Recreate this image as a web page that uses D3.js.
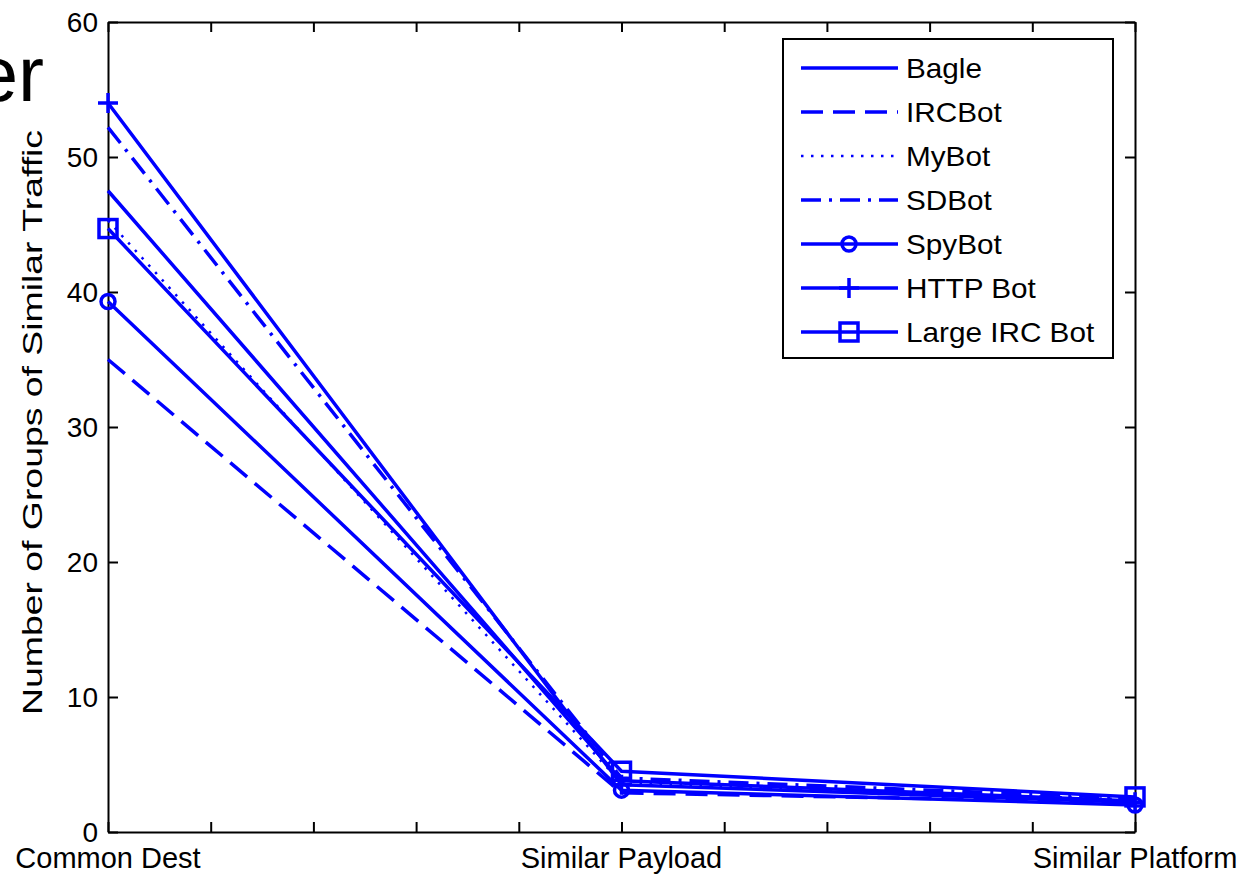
<!DOCTYPE html>
<html>
<head>
<meta charset="utf-8">
<script src="https://cdn.jsdelivr.net/npm/d3@7"></script>
<style>
  html, body { margin: 0; padding: 0; background: #fff; }
  svg { display: block; }
  text { font-family: "Liberation Sans", Arial, sans-serif; fill: #000; }
</style>
</head>
<body>
<svg id="chart" width="1248" height="874"></svg>
<script>
// ---- data ----
const categories = ["Common Dest", "Similar Payload", "Similar Platform"];
const categoryPositions = [1, 2, 3];
const yTicks = [0, 10, 20, 30, 40, 50, 60];
const xMinorTicks = [1, 1.2, 1.4, 1.6, 1.8, 2, 2.2, 2.4, 2.6, 2.8, 3];
const seriesNames = ["Bagle", "IRCBot", "MyBot", "SDBot", "SpyBot", "HTTP Bot", "Large IRC Bot"];
const bagle    = [47.5, 3.8, 2.3];
const ircbot   = [35.0, 2.9, 2.2];
const mybot    = [45.3, 3.6, 2.4];
const sdbot    = [52.2, 4.0, 2.5];
const spybot   = [39.3, 3.1, 2.0];
const httpbot  = [54.0, 3.5, 2.2];
const largeirc = [44.7, 4.5, 2.6];
const seriesValues = [bagle, ircbot, mybot, sdbot, spybot, httpbot, largeirc];

// ---- styles ----
const blue = "#0000ff";
const styles = [
  { dash: null,          width: 3.5, marker: null },
  { dash: "22,10",       width: 3.5, marker: null },
  { dash: "2.5,7.5",     width: 2.5, marker: null },
  { dash: "20,8,3,8",    width: 3.5, marker: null },
  { dash: null,          width: 3.5, marker: "circle" },
  { dash: null,          width: 3.5, marker: "plus" },
  { dash: null,          width: 3.5, marker: "square" }
];

const svg = d3.select("#chart");
const L = 108, R = 1135, T = 22, B = 832;

const x = d3.scaleLinear().domain([1, 3]).range([L, R]);
const y = d3.scaleLinear().domain([0, 60]).range([B, T]);

// slide title fragment (cut at the left edge, as in the reference)
svg.append("text").attr("x", 44).attr("y", 101).attr("text-anchor", "end")
  .style("font-size", "78px")
  .text("er");

// axes box
const g = svg.append("g");
const tickLen = 10;
const xAxisB = d3.axisBottom(x).tickValues(xMinorTicks).tickSizeInner(-tickLen).tickSizeOuter(0).tickFormat("");
const xAxisT = d3.axisTop(x).tickValues(xMinorTicks).tickSizeInner(-tickLen).tickSizeOuter(0).tickFormat("");
const yAxisL = d3.axisLeft(y).tickValues(yTicks).tickSizeInner(-tickLen).tickSizeOuter(0).tickFormat("");
const yAxisR = d3.axisRight(y).tickValues(yTicks).tickSizeInner(-tickLen).tickSizeOuter(0).tickFormat("");

g.append("g").attr("transform", `translate(0,${B})`).call(xAxisB);
g.append("g").attr("transform", `translate(0,${T})`).call(xAxisT);
g.append("g").attr("transform", `translate(${L},0)`).call(yAxisL);
g.append("g").attr("transform", `translate(${R},0)`).call(yAxisR);
g.selectAll(".domain").attr("stroke", "#000").attr("stroke-width", 2);
g.selectAll(".tick line").attr("stroke", "#000").attr("stroke-width", 2);

// y tick labels
svg.append("g").selectAll("text").data(yTicks).join("text")
  .attr("x", 98).attr("y", d => y(d)).attr("dy", "0.36em")
  .attr("text-anchor", "end").style("font-size", "28px")
  .text(d => d);

// x category labels
svg.append("g").selectAll("text").data(categories).join("text")
  .attr("x", (d, i) => x(categoryPositions[i])).attr("y", 868)
  .attr("text-anchor", "middle").style("font-size", "29px")
  .text(d => d);

// y axis label
svg.append("text")
  .attr("transform", `translate(42,${(130 + 715) / 2}) rotate(-90)`)
  .attr("text-anchor", "middle")
  .attr("textLength", 585).attr("lengthAdjust", "spacingAndGlyphs")
  .style("font-size", "27px")
  .text("Number of Groups of Similar Traffic");

// lines
const line = d3.line().x((d, i) => x(categoryPositions[i])).y(d => y(d));
const plot = svg.append("g");

function drawMarker(sel, type, cx, cy) {
  if (type === "circle") {
    sel.append("circle").attr("cx", cx).attr("cy", cy).attr("r", 7)
      .attr("fill", "none").attr("stroke", blue).attr("stroke-width", 3.5);
  } else if (type === "plus") {
    sel.append("path").attr("d", `M${cx - 10},${cy}H${cx + 10}M${cx},${cy - 10}V${cy + 10}`)
      .attr("stroke", blue).attr("stroke-width", 3.5);
  } else if (type === "square") {
    sel.append("rect").attr("x", cx - 9).attr("y", cy - 9).attr("width", 18).attr("height", 18)
      .attr("fill", "none").attr("stroke", blue).attr("stroke-width", 3.5);
  }
}

seriesValues.forEach((vals, si) => {
  const st = styles[si];
  plot.append("path").datum(vals).attr("d", line)
    .attr("fill", "none").attr("stroke", blue).attr("stroke-width", st.width)
    .attr("stroke-dasharray", st.dash).attr("stroke-linejoin", "miter");
  if (st.marker) {
    vals.forEach((v, i) => drawMarker(plot, st.marker, x(categoryPositions[i]), y(v)));
  }
});

// legend
const lg = svg.append("g");
lg.append("rect").attr("x", 783).attr("y", 39).attr("width", 330).attr("height", 319)
  .attr("fill", "#fff").attr("stroke", "#000").attr("stroke-width", 2);
seriesNames.forEach((name, i) => {
  const st = styles[i];
  const ly = 68 + i * 44;
  lg.append("line").attr("x1", 801).attr("x2", 898).attr("y1", ly).attr("y2", ly)
    .attr("stroke", blue).attr("stroke-width", st.width).attr("stroke-dasharray", st.dash);
  if (st.marker) drawMarker(lg, st.marker, 849, ly);
  lg.append("text").attr("transform", `translate(906,${ly}) scale(1.1,1)`)
    .attr("dy", "0.36em")
    .style("font-size", "27px").text(name);
});
</script>
</body>
</html>
